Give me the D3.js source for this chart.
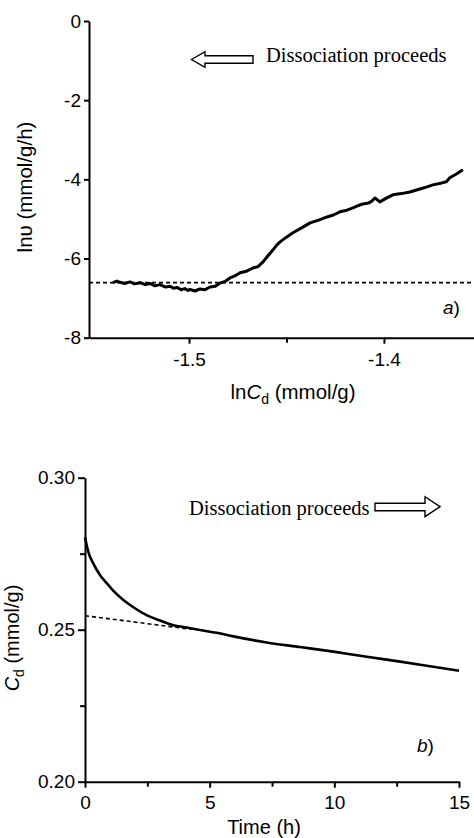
<!DOCTYPE html>
<html><head><meta charset="utf-8">
<script src="https://cdn.jsdelivr.net/npm/d3@7/dist/d3.min.js"></script>
<style>
html,body{margin:0;padding:0;background:#fff;}
svg{display:block;}
.tk text{font-family:"Liberation Sans",Arial,sans-serif;font-size:19px;fill:#000;}
.tk path,.tk line{stroke:#000;stroke-width:2;}
</style></head><body>
<svg id="c" width="474" height="838"></svg>
<script>
// Panel a data
const lnCd = [-1.5390,-1.5370,-1.5354,-1.5330,-1.5303,-1.5280,-1.5251,-1.5225,-1.5200,-1.5175,-1.5149,-1.5120,-1.5097,-1.5080,-1.5062,-1.5040,-1.5021,-1.5005,-1.4995,-1.4970,-1.4944,-1.4920,-1.4892,-1.4865,-1.4841,-1.4815,-1.4790,-1.4765,-1.4738,-1.4705,-1.4672,-1.4645,-1.4621,-1.4595,-1.4569,-1.4550,-1.4533,-1.4500,-1.4467,-1.4420,-1.4379,-1.4335,-1.4292,-1.4260,-1.4226,-1.4190,-1.4159,-1.4130,-1.4108,-1.4080,-1.4062,-1.4046,-1.4021,-1.3990,-1.3954,-1.3910,-1.3867,-1.3820,-1.3779,-1.3749,-1.3703,-1.3680,-1.3662,-1.3626,-1.3595];
const lnV = [-6.61,-6.57,-6.60,-6.63,-6.59,-6.64,-6.61,-6.66,-6.63,-6.69,-6.66,-6.72,-6.70,-6.75,-6.73,-6.79,-6.76,-6.81,-6.78,-6.82,-6.77,-6.79,-6.72,-6.70,-6.62,-6.58,-6.49,-6.44,-6.36,-6.32,-6.24,-6.20,-6.09,-5.93,-5.78,-5.66,-5.58,-5.46,-5.35,-5.22,-5.10,-5.03,-4.95,-4.90,-4.82,-4.78,-4.72,-4.66,-4.62,-4.60,-4.55,-4.47,-4.57,-4.48,-4.39,-4.36,-4.32,-4.25,-4.19,-4.14,-4.09,-4.06,-3.96,-3.86,-3.76];
const baselineA = -6.61;
const xTicksA = [-1.5,-1.4];
const xMinorA = [-1.45];
const yTicksA = [0,-2,-4,-6,-8];

// Panel b data
const timeH = [0,0.13,0.33,0.60,0.87,1.14,1.54,1.94,2.47,3.01,3.54,4.08,4.61,5.28,5.95,7.29,8.62,9.96,11.30,12.64,13.97,15.0];
const cd = [0.2804,0.2757,0.2718,0.2680,0.2653,0.2628,0.2598,0.2574,0.2548,0.2530,0.2515,0.2507,0.2499,0.2490,0.2478,0.2458,0.2443,0.2428,0.2411,0.2395,0.2378,0.2365];
const dashT = [0,4.3];
const dashCd = [0.2546,0.2501];
const xTicksB = [0,5,10,15];
const xMinorB = [2.5,7.5,12.5];
const yTicksB = [0.30,0.25,0.20];
const yMinorB = [0.275,0.225];

const svg = d3.select("#c");
const sans = '"Liberation Sans",Arial,sans-serif';
const serif = '"Liberation Serif","Times New Roman",serif';

// ---------- Panel a ----------
const xa = d3.scaleLinear().domain([-1.5513,-1.3538]).range([89,474]);
const ya = d3.scaleLinear().domain([-8,0]).range([337.7,21]);

svg.append("line").attr("x1",xa(-1.5513)).attr("x2",474).attr("y1",ya(baselineA)).attr("y2",ya(baselineA))
  .attr("stroke","#000").attr("stroke-width",1.6).attr("stroke-dasharray","4,3");

const ga = svg.append("g").attr("class","tk");
ga.append("g").attr("transform",`translate(0,${ya(-8)})`)
  .call(d3.axisBottom(xa).tickValues(xTicksA).tickSize(6).tickPadding(9).tickFormat(d3.format(".1f")).tickSizeOuter(0))
  .call(g=>g.selectAll("text").text(d=>d3.format(".1f")(d).replace("−","-")));
ga.append("g").attr("transform",`translate(0,${ya(-8)})`)
  .call(d3.axisBottom(xa).tickValues(xMinorA).tickSize(5).tickFormat("").tickSizeOuter(0))
  .call(g=>g.select(".domain").remove());
ga.append("g").attr("transform",`translate(${xa(-1.5513)},0)`)
  .call(d3.axisLeft(ya).tickValues(yTicksA).tickSize(5).tickPadding(3).tickSizeOuter(0))
  .call(g=>g.selectAll("text").text(d=>String(d).replace("−","-")));

svg.append("path").datum(lnCd.map((d,i)=>[d,lnV[i]]))
  .attr("d",d3.line().x(d=>xa(d[0])).y(d=>ya(d[1])))
  .attr("fill","none").attr("stroke","#000").attr("stroke-width",3).attr("stroke-linejoin","round");

// arrow a (pointing left)
svg.append("path").attr("d","M191.5,59.5 L205,51.7 L205,55.7 L253,55.7 L253,63.3 L205,63.3 L205,67.3 Z")
  .attr("fill","#fff").attr("stroke","#000").attr("stroke-width",1.4);
svg.append("text").attr("x",266).attr("y",62).attr("font-family",serif).attr("font-size",20.5).text("Dissociation proceeds");

svg.append("text").attr("x",443).attr("y",314).attr("font-family",sans).attr("font-size",19).attr("font-style","italic").text("a")
  .append("tspan").attr("font-style","normal").text(")");

const xtA = svg.append("text").attr("x",293).attr("y",399).attr("text-anchor","middle").attr("font-family",sans).attr("font-size",20.5);
xtA.append("tspan").text("ln");
xtA.append("tspan").attr("font-style","italic").text("C");
xtA.append("tspan").attr("font-size",14).attr("dy",5).text("d");
xtA.append("tspan").attr("dy",-5).text(" (mmol/g)");

svg.append("text").attr("transform","translate(32,187) rotate(-90)").attr("text-anchor","middle")
  .attr("font-family",sans).attr("font-size",20.5).text("lnυ (mmol/g/h)");

// ---------- Panel b ----------
const xb = d3.scaleLinear().domain([0,15]).range([85,459]);
const yb = d3.scaleLinear().domain([0.2,0.3]).range([781.7,477.7]);

const gb = svg.append("g").attr("class","tk");
gb.append("g").attr("transform",`translate(0,${yb(0.2)})`)
  .call(d3.axisBottom(xb).tickValues(xTicksB).tickSize(6).tickPadding(8).tickSizeOuter(0));
gb.append("g").attr("transform",`translate(0,${yb(0.2)})`)
  .call(d3.axisBottom(xb).tickValues(xMinorB).tickSize(5).tickFormat("").tickSizeOuter(0))
  .call(g=>g.select(".domain").remove());
gb.append("g").attr("transform",`translate(${xb(0)},0)`)
  .call(d3.axisLeft(yb).tickValues(yTicksB).tickSize(7).tickPadding(3).tickFormat(d3.format(".2f")).tickSizeOuter(0));
gb.append("g").attr("transform",`translate(${xb(0)},0)`)
  .call(d3.axisLeft(yb).tickValues(yMinorB).tickSize(5).tickFormat("").tickSizeOuter(0))
  .call(g=>g.select(".domain").remove());

svg.append("path").datum(dashT.map((d,i)=>[d,dashCd[i]]))
  .attr("d",d3.line().x(d=>xb(d[0])).y(d=>yb(d[1])))
  .attr("fill","none").attr("stroke","#000").attr("stroke-width",1.6).attr("stroke-dasharray","4,3");
svg.append("path").datum(timeH.map((d,i)=>[d,cd[i]]))
  .attr("d",d3.line().curve(d3.curveMonotoneX).x(d=>xb(d[0])).y(d=>yb(d[1])))
  .attr("fill","none").attr("stroke","#000").attr("stroke-width",2.6);

// arrow b (pointing right)
svg.append("path").attr("d","M440,506.7 L425,496.7 L425,503.2 L375,503.2 L375,510.7 L425,510.7 L425,516.7 Z")
  .attr("fill","#fff").attr("stroke","#000").attr("stroke-width",1.4);
svg.append("text").attr("x",189).attr("y",515).attr("font-family",serif).attr("font-size",20.5).text("Dissociation proceeds");

svg.append("text").attr("x",417).attr("y",752).attr("font-family",sans).attr("font-size",19).attr("font-style","italic").text("b")
  .append("tspan").attr("font-style","normal").text(")");

svg.append("text").attr("x",264).attr("y",834).attr("text-anchor","middle").attr("font-family",sans).attr("font-size",20).text("Time (h)");

const ytB = svg.append("text").attr("transform","translate(19,638) rotate(-90)").attr("text-anchor","middle")
  .attr("font-family",sans).attr("font-size",20);
ytB.append("tspan").attr("font-style","italic").text("C");
ytB.append("tspan").attr("font-size",14).attr("dy",5).text("d");
ytB.append("tspan").attr("dy",-5).text(" (mmol/g)");
</script>
</body></html>
